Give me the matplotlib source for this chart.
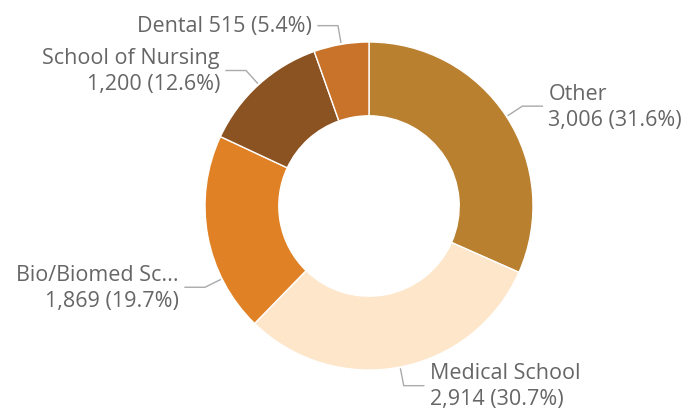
import numpy as np
import matplotlib.pyplot as plt

categories = ["Other", "Medical School", "Bio/Biomed Sc...", "School of Nursing", "Dental"]
values = [3006, 2914, 1869, 1200, 515]
colors = ["#B98030", "#FDE6CA", "#E08126", "#8B5222", "#C8722A"]

plt.rcParams['font.family'] = ['Open Sans', 'DejaVu Sans']

W, H = 686, 410
fig = plt.figure(figsize=(W / 100, H / 100), dpi=100)
ax = fig.add_axes([0, 0, 1, 1])

cx, cy, R = 369, 203, 164
ax.pie(values, colors=colors, startangle=90, counterclock=False,
       center=(cx, cy), radius=R, frame=True,
       wedgeprops=dict(width=R * 0.45, edgecolor='white', linewidth=1))
ax.set_xlim(0, W)
ax.set_ylim(0, H)
ax.set_aspect('equal')
ax.axis('off')

total = sum(values)
pct = [v / total * 100 for v in values]
# label nudges (degrees) to mimic the original placement
nudge = {"Bio/Biomed Sc...": 16}

angle = 90
for name, v, p in zip(categories, values, pct):
    span = v / total * 360
    mid = angle - span / 2
    angle -= span
    a = np.radians(mid + nudge.get(name, 0))
    d = np.array([np.cos(a), np.sin(a)])
    p0 = np.array([cx, cy]) + d * (R + 2)
    p1 = np.array([cx, cy]) + d * (R + 19)
    side = 1 if d[0] > 0 else -1
    p2 = p1 + np.array([side * 20, 0])
    if name == "Dental":
        txt = f"{name} {v:,} ({p:.1f}%)"
    else:
        txt = f"{name}\n{v:,} ({p:.1f}%)"
    ax.plot([p0[0], p1[0], p2[0]], [p0[1], p1[1], p2[1]], color='#AAAAAA', lw=1)
    ax.text(p2[0] + side * 6, p2[1], txt, ha='left' if side > 0 else 'right',
            va='center', fontsize=15.5, color='#666666', linespacing=1.3)

fig.savefig("out.png", dpi=100)
